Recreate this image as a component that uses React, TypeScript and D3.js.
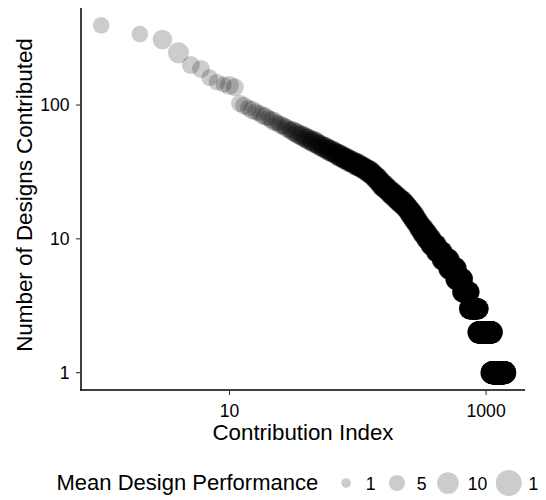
import React from 'react';
import * as d3 from 'd3';

// contributors 1..30, each with their own design count
const topDesigns = [394, 339, 309, 246, 199, 186, 160, 148, 142, 140, 136, 103, 99, 95, 92, 89, 87, 84, 82, 80, 78, 76, 74, 73, 71, 70, 69, 67, 66, 65];
const topPerformance = [5.5, 5.5, 8, 9.5, 6.5, 6.5, 5.5, 5.5, 5, 7.5, 6.5, 6, 6.5, 5.5, 7, 6, 5.5, 6.5, 7, 5.5, 6, 7.5, 6, 5.5, 7, 6.5, 6, 7.5, 6, 6.5];

// after that: design count shared by a group of contributors
const levelDesigns = [
  64, 63, 62, 61, 60, 59, 58, 57, 56, 55, 54, 53, 52, 51, 50,
  49, 48, 47, 46, 45, 44, 43, 42, 41, 40, 39, 38, 37, 36, 35,
  34, 33, 32, 31, 30, 29, 28, 27, 26, 25, 24, 23, 22, 21, 20,
  19, 18, 17, 16, 15, 14, 13, 12, 11, 10, 9, 8, 7, 6, 5,
  4, 3, 2, 1,
];
const levelContributors = [
  1, 1, 1, 1, 1, 2, 1, 1, 2, 1, 2, 2, 2, 1, 2,
  3, 2, 2, 3, 3, 3, 3, 3, 4, 4, 4, 5, 5, 5, 6,
  6, 6, 6, 5, 5, 5, 5, 5, 5, 7, 8, 9, 9, 11, 12,
  13, 13, 13, 12, 12, 14, 16, 19, 22, 28, 36, 47, 59, 67, 73,
  85, 130, 240, 290,
];
const levelPerformance = [
  8, 8.5, 7.5, 9, 8, 8.5, 9.5, 8, 9, 9.5, 8.5, 10, 9, 8.5, 9.5,
  9, 10, 8.5, 9.5, 10, 9, 9.5, 10.5, 9, 10, 9.5, 10, 9, 10.5, 9.5,
  10, 9.5, 10.5, 10, 9.5, 10, 10.5, 9.5, 10, 10.5, 10, 9.5, 10.5, 10, 10,
  10.5, 10, 9.5, 10, 10.5, 10, 9.5, 10, 10.5, 10, 10, 9.5, 10, 10.5, 10,
  9.5, 9.5, 10.5, 11.5,
];

const xTicks = [10, 1000];
const yTicks = [1, 10, 100];
const legendBreaks = [1, 5, 10, 15];

const font = 'Liberation Sans, Arial, Helvetica, sans-serif';

type Pt = { idx: number; designs: number; perf: number };

function buildPoints(): Pt[] {
  const pts: Pt[] = [];
  topDesigns.forEach((d, i) => pts.push({ idx: i + 1, designs: d, perf: topPerformance[i] }));
  let idx = topDesigns.length;
  levelDesigns.forEach((d, i) => {
    for (let k = 0; k < levelContributors[i]; k++) {
      idx += 1;
      pts.push({ idx, designs: d, perf: levelPerformance[i] });
    }
  });
  return pts;
}

// ggplot-ish 5% expansion in log space
function logExpand(ext: [number, number]): [number, number] {
  const a = Math.log10(ext[0]);
  const b = Math.log10(ext[1]);
  const pad = (b - a) * 0.05;
  return [Math.pow(10, a - pad), Math.pow(10, b + pad)];
}

export default function App() {
  const width = 546;
  const height = 500;
  const panel = { left: 81, right: 525, top: 8, bottom: 390 };

  const points = buildPoints();

  const x = d3.scaleLog()
    .domain(logExpand(d3.extent(points, d => d.idx) as [number, number]))
    .range([panel.left, panel.right]);
  const y = d3.scaleLog()
    .domain(logExpand(d3.extent(points, d => d.designs) as [number, number]))
    .range([panel.bottom, panel.top]);
  const size = d3.scaleRadial().domain([1, 15]).range([4.8, 13]);

  // legend layout
  const digitW = 0.556 * 17.6;
  let cursor = 346;
  const legendItems = legendBreaks.map(b => {
    const cx = cursor;
    const lx = cx + 19.8;
    cursor = lx + String(b).length * digitW + 21.4;
    return { b, cx, lx };
  });

  return (
    <svg
      width={width}
      height={height}
      style={{ position: 'absolute', left: 0, top: 0, background: '#fff' }}
      fontFamily={font}
    >
      <defs>
        <clipPath id="legend-clip">
          <rect x={0} y={440} width={538} height={60} />
        </clipPath>
      </defs>

      {/* points */}
      <g>
        {points.map(p => (
          <circle key={p.idx} cx={x(p.idx)} cy={y(p.designs)} r={size(p.perf)} fill="#000" fillOpacity={0.2} />
        ))}
      </g>

      {/* axes */}
      <line x1={panel.left} x2={panel.left} y1={panel.top} y2={panel.bottom + 0.75} stroke="#000" strokeWidth={1.5} />
      <line x1={panel.left - 0.75} x2={panel.right} y1={panel.bottom} y2={panel.bottom} stroke="#000" strokeWidth={1.5} />

      {yTicks.map(t => (
        <g key={`y${t}`}>
          <line x1={panel.left - 5} x2={panel.left} y1={y(t)} y2={y(t)} stroke="#333" strokeWidth={1.1} />
          <text x={69.5} y={y(t)} dy="0.36em" textAnchor="end" fontSize={17.6} fill="#000">{t}</text>
        </g>
      ))}
      {xTicks.map(t => (
        <g key={`x${t}`}>
          <line x1={x(t)} x2={x(t)} y1={panel.bottom} y2={panel.bottom + 5} stroke="#333" strokeWidth={1.1} />
          <text x={x(t)} y={417} textAnchor="middle" fontSize={17.6} fill="#000">{t}</text>
        </g>
      ))}

      <text x={(panel.left + panel.right) / 2} y={439.5} textAnchor="middle" fontSize={22.3} fill="#000">Contribution Index</text>
      <text
        transform={`translate(32,195) rotate(-90)`}
        textAnchor="middle"
        fontSize={22.4}
        fill="#000"
      >
        Number of Designs Contributed
      </text>

      {/* legend */}
      <g clipPath="url(#legend-clip)">
        <text x={56.5} y={490} fontSize={22} fill="#000">Mean Design Performance</text>
        {legendItems.map(it => (
          <g key={it.b}>
            <circle cx={it.cx} cy={483} r={size(it.b)} fill="#000" fillOpacity={0.2} />
            <text x={it.lx} y={489.5} fontSize={17.6} fill="#000">{it.b}</text>
          </g>
        ))}
      </g>
    </svg>
  );
}
